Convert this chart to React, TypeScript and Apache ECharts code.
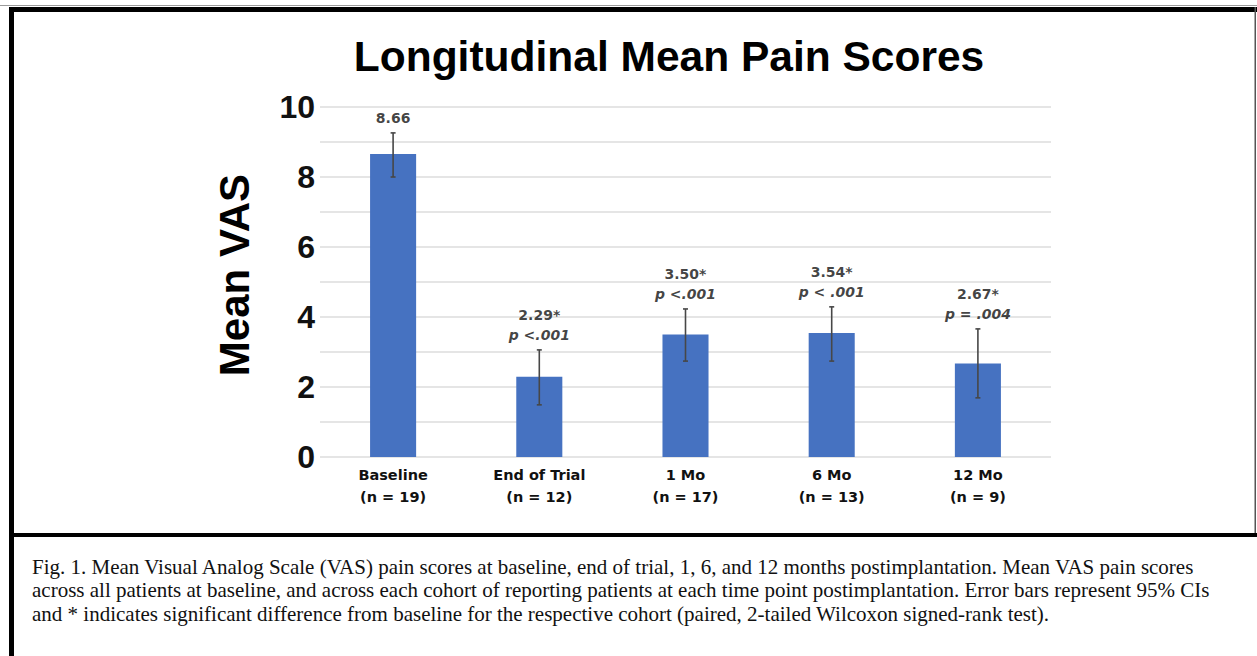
import React, { useEffect, useRef } from "react";
import * as echarts from "echarts";

const categories = ["Baseline", "End of Trial", "1 Mo", "6 Mo", "12 Mo"];
const cohortSizes = ["(n = 19)", "(n = 12)", "(n = 17)", "(n = 13)", "(n = 9)"];
const meanVAS = [8.66, 2.29, 3.5, 3.54, 2.67];
const ciLower = [8.0, 1.49, 2.74, 2.74, 1.69];
const ciUpper = [9.26, 3.06, 4.23, 4.29, 3.66];
const meanLabels = ["8.66", "2.29*", "3.50*", "3.54*", "2.67*"];
const pValues = ["", "p <.001", "p <.001", "p < .001", "p = .004"];
const yTickLabels = ["0", "2", "4", "6", "8", "10"];

const titleText = "Longitudinal Mean Pain Scores";
const yAxisTitle = "Mean VAS";
const captionText =
  "Fig. 1. Mean Visual Analog Scale (VAS) pain scores at baseline, end of trial, 1, 6, and 12 months postimplantation. Mean VAS pain scores\n" +
  "across all patients at baseline, and across each cohort of reporting patients at each time point postimplantation. Error bars represent 95% CIs\n" +
  "and * indicates significant difference from baseline for the respective cohort (paired, 2-tailed Wilcoxon signed-rank test).";

const W = 1257;
const H = 656;

export default function App() {
  const ref = useRef<HTMLDivElement>(null);

  useEffect(() => {
    document.body.style.margin = "0";
    if (!ref.current) return;
    const chart = echarts.init(ref.current, null, { renderer: "svg" });

    const sans = "'Liberation Sans', Arial, sans-serif";
    const wide = "'DejaVu Sans', sans-serif";

    chart.setOption({
      animation: false,
      backgroundColor: "#ffffff",
      grid: { left: 320, right: W - 1051, top: 107, bottom: H - 457, containLabel: false },
      xAxis: {
        type: "category",
        data: categories,
        axisLine: { show: false },
        axisTick: { show: false },
        axisLabel: {
          margin: 7,
          formatter: (v: string, i: number) => `{a|${v}}\n{a|${cohortSizes[i]}}`,
          rich: {
            a: { fontFamily: wide, fontWeight: "bold", fontSize: 14.5, lineHeight: 22, color: "#111" },
          },
        },
      },
      yAxis: {
        type: "value",
        min: 0,
        max: 10,
        interval: 1,
        axisLine: { show: false },
        axisTick: { show: false },
        splitLine: { show: true, lineStyle: { color: "#dcdcdc", width: 1.5 } },
        axisLabel: {
          margin: 5,
          fontFamily: sans,
          fontWeight: "bold",
          fontSize: 32,
          color: "#111",
          formatter: (v: number) => (yTickLabels.includes(String(v)) ? String(v) : ""),
        },
      },
      series: [
        {
          type: "bar",
          data: meanVAS,
          barWidth: "31.5%",
          itemStyle: { color: "#4672C1" },
          z: 2,
        },
        {
          type: "custom",
          data: categories.map((_, i) => [i, ciLower[i], ciUpper[i]]),
          encode: { x: 0, y: [1, 2] },
          z: 5,
          renderItem: (params: any, api: any) => {
            const idx = api.value(0);
            const lo = api.coord([idx, api.value(1)]);
            const hi = api.coord([idx, api.value(2)]);
            const hw = 2.5;
            const style = { stroke: "#474747", lineWidth: 1.6 };
            return {
              type: "group",
              children: [
                { type: "line", shape: { x1: lo[0], y1: lo[1], x2: hi[0], y2: hi[1] }, style },
                { type: "line", shape: { x1: hi[0] - hw, y1: hi[1], x2: hi[0] + hw, y2: hi[1] }, style },
                { type: "line", shape: { x1: lo[0] - hw, y1: lo[1], x2: lo[0] + hw, y2: lo[1] }, style },
              ],
            };
          },
        },
        {
          type: "scatter",
          data: categories.map((_, i) => [i, ciUpper[i]]),
          symbolSize: 0,
          itemStyle: { color: "transparent" },
          z: 6,
          label: {
            show: true,
            position: "top",
            distance: 5,
            formatter: (p: any) => {
              const i = p.dataIndex;
              return pValues[i] ? `{v|${meanLabels[i]}}\n{p|${pValues[i]}}` : `{v|${meanLabels[i]}}`;
            },
            rich: {
              v: { fontFamily: wide, fontWeight: "bold", fontSize: 14, lineHeight: 20, color: "#111" },
              p: { fontFamily: wide, fontWeight: "bold", fontStyle: "italic", fontSize: 14, lineHeight: 20, color: "#111" },
            },
          },
        },
      ],
      graphic: [
        { type: "rect", shape: { x: 0, y: 5, width: W, height: 1 }, style: { fill: "#9a9a9a" } },
        { type: "rect", shape: { x: 9, y: 7, width: W - 9, height: 5 }, style: { fill: "#000" } },
        { type: "rect", shape: { x: 9, y: 7, width: 5, height: H - 7 }, style: { fill: "#000" } },
        { type: "rect", shape: { x: 1254.5, y: 7, width: 1.5, height: 527 }, style: { fill: "#555" } },
        { type: "rect", shape: { x: 9, y: 533, width: W - 9, height: 4 }, style: { fill: "#000" } },
        {
          type: "text",
          x: 669,
          y: 56,
          style: {
            text: titleText,
            fontFamily: sans,
            fontWeight: "bold",
            fontSize: 42.5,
            fill: "#000",
            textAlign: "center",
            textVerticalAlign: "middle",
          },
        },
        {
          type: "text",
          x: 234,
          y: 275,
          rotation: Math.PI / 2,
          style: {
            text: yAxisTitle,
            fontFamily: sans,
            fontWeight: "bold",
            fontSize: 42,
            fill: "#000",
            textAlign: "center",
            textVerticalAlign: "middle",
          },
        },
        {
          type: "text",
          x: 32,
          y: 555,
          style: {
            text: captionText,
            fontFamily: "'Liberation Serif', 'Times New Roman', serif",
            fontSize: 21,
            lineHeight: 23.5,
            fill: "#111",
            textAlign: "left",
            textVerticalAlign: "top",
          },
        },
      ],
    });

    return () => chart.dispose();
  }, []);

  return <div ref={ref} style={{ width: W, height: H }} />;
}
